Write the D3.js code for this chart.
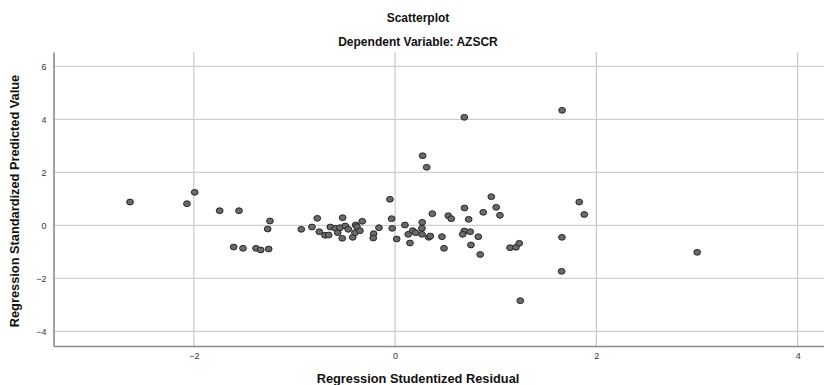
<!DOCTYPE html>
<html>
<head>
<meta charset="utf-8">
<script src="https://cdn.jsdelivr.net/npm/d3@7"></script>
<style>
  html, body { margin: 0; padding: 0; background: #fff; }
  svg { display: block; font-family: "Liberation Sans", Arial, sans-serif; }
</style>
</head>
<body>
<svg id="chart" width="824" height="385"></svg>
<script>
// ---- Data ----
const title = "Scatterplot";
const subtitle = "Dependent Variable: AZSCR";
const xLabel = "Regression Studentized Residual";
const yLabel = "Regression Standardized Predicted Value";
const xTicks = [-2, 0, 2, 4];
const yTicks = [-4, -2, 0, 2, 4, 6];

const residuals = [
  -2.634, -2.068, -1.991, -1.743, -1.551, -1.243, -1.266, -1.604, -1.511, -1.382,
  -1.335, -1.256, -0.932, -0.826, -0.773, -0.753, -0.696, -0.660, -0.644, -0.594,
  -0.570, -0.547, -0.521, -0.525, -0.495, -0.465, -0.421, -0.398, -0.391, -0.379,
  -0.349, -0.326, -0.213, -0.217, -0.160, -0.051, -0.034, -0.028, 0.016, 0.098,
  0.131, 0.175, 0.205, 0.270, 0.267, 0.267, 0.148, 0.334, 0.350, 0.370,
  0.466, 0.486, 0.529, 0.558, 0.690, 0.731, 0.688, 0.672, 0.747, 0.827,
  0.754, 0.876, 0.956, 1.005, 1.042, 0.846, 1.142, 1.201, 1.234, 1.658,
  1.655, 1.830, 1.880, 0.688, 0.274, 0.314, 1.660, 3.002, 1.244
];
const predicted = [
  0.879, 0.815, 1.245, 0.551, 0.551, 0.162, -0.140, -0.819, -0.868, -0.868,
  -0.932, -0.894, -0.151, -0.064, 0.264, -0.242, -0.377, -0.366, -0.064, -0.113,
  -0.279, -0.091, 0.287, -0.491, -0.026, -0.151, -0.453, -0.279, 0.011, -0.053,
  -0.204, 0.151, -0.317, -0.479, -0.091, 0.981, 0.249, -0.113, -0.517, 0.011,
  -0.340, -0.204, -0.279, 0.113, -0.113, -0.340, -0.668, -0.453, -0.404, 0.438,
  -0.430, -0.868, 0.362, 0.249, 0.653, 0.226, -0.215, -0.340, -0.242, -0.430,
  -0.743, 0.491, 1.079, 0.679, 0.377, -1.102, -0.845, -0.830, -0.679, -0.453,
  -1.736, 0.879, 0.408, 4.075, 2.626, 2.189, 4.340, -1.019, -2.845
];

// ---- Layout ----
const svg = d3.select("#chart");
const plot = { left: 53.5, right: 824, top: 52, bottom: 346 };

const x = d3.scaleLinear().domain([-3.394, 4.262]).range([plot.left, plot.right]);
const y = d3.scaleLinear().domain([-4.555, 6.54]).range([plot.bottom, plot.top]);

// gridlines
const grid = svg.append("g");
grid.selectAll("line.vg").data(xTicks).enter().append("line")
  .attr("x1", d => x(d)).attr("x2", d => x(d))
  .attr("y1", plot.top).attr("y2", plot.bottom)
  .attr("stroke", "#c8c8c8").attr("stroke-width", 1.2);
grid.selectAll("line.hg").data(yTicks).enter().append("line")
  .attr("x1", plot.left).attr("x2", plot.right)
  .attr("y1", d => y(d)).attr("y2", d => y(d))
  .attr("stroke", "#cfcfcf").attr("stroke-width", 1.2);

// axes via d3 axis (no tick marks, labels only)
const xAxis = svg.append("g")
  .attr("transform", `translate(0,${plot.bottom})`)
  .call(d3.axisBottom(x).tickValues(xTicks).tickSize(0).tickPadding(7).tickFormat(d3.format("d")));
const yAxis = svg.append("g")
  .attr("transform", `translate(${plot.left},0)`)
  .call(d3.axisLeft(y).tickValues(yTicks).tickSize(0).tickPadding(7).tickFormat(d3.format("d")));
[xAxis, yAxis].forEach(a => {
  a.select(".domain").attr("stroke", "#8a8a8a").attr("stroke-width", 1.6);
  a.selectAll("text").attr("fill", "#333").style("font-size", "9px")
    .style("font-family", "'Liberation Sans', Arial, sans-serif");
});

// points
svg.append("g").selectAll("ellipse").data(residuals.map((r, i) => [r, predicted[i]]))
  .enter().append("ellipse")
  .attr("cx", d => x(d[0])).attr("cy", d => y(d[1]))
  .attr("rx", 3.4).attr("ry", 2.9)
  .attr("fill", "#6a6a6a").attr("stroke", "#262626").attr("stroke-width", 1);

// titles
svg.append("text").attr("x", 418).attr("y", 22).attr("text-anchor", "middle")
  .style("font-size", "12px").style("font-weight", "bold").attr("fill", "#111").text(title);
svg.append("text").attr("x", 418).attr("y", 46).attr("text-anchor", "middle")
  .style("font-size", "12px").style("font-weight", "bold").attr("fill", "#111").text(subtitle);
svg.append("text").attr("x", 418).attr("y", 383).attr("text-anchor", "middle")
  .style("font-size", "12.8px").style("font-weight", "bold").attr("fill", "#111").text(xLabel);
svg.append("text").attr("transform", `translate(19,${(plot.top + plot.bottom) / 2 + 2}) rotate(-90)`)
  .attr("text-anchor", "middle")
  .style("font-size", "12.8px").style("font-weight", "bold").attr("fill", "#111").text(yLabel);
</script>
</body>
</html>
